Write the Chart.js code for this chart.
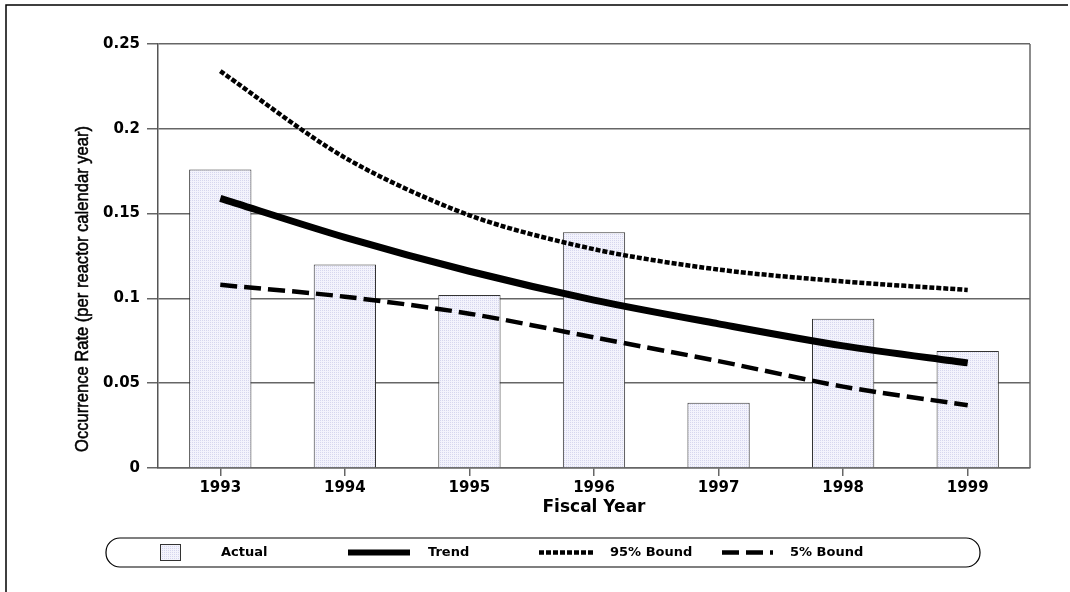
<!DOCTYPE html>
<html>
<head>
<meta charset="utf-8">
<script src="https://cdn.jsdelivr.net/npm/chart.js@4"></script>
<style>
  html, body { margin: 0; padding: 0; background: #fff; }
  #wrap { width: 1070px; height: 592px; position: relative; }
</style>
</head>
<body>
<div id="wrap"><canvas id="rateChart" width="1070" height="592"></canvas></div>
<script>
// values
const years = ['1993', '1994', '1995', '1996', '1997', '1998', '1999'];
const actual = [0.176, 0.120, 0.102, 0.139, 0.0385, 0.088, 0.069];
const trend = [0.159, 0.136, 0.116, 0.099, 0.085, 0.072, 0.062];
const bound95 = [0.234, 0.183, 0.149, 0.129, 0.117, 0.110, 0.105];
const bound5 = [0.108, 0.101, 0.091, 0.077, 0.063, 0.048, 0.037];
const yTicks = [0, 0.05, 0.1, 0.15, 0.2, 0.25];

const boldFont = '"DejaVu Sans", Arial, sans-serif';

// light dotted fill for the bars
function barPattern() {
    const c = document.createElement('canvas');
    c.width = 2; c.height = 2;
    const g = c.getContext('2d');
    g.fillStyle = '#f3f3fc';
    g.fillRect(0, 0, 2, 2);
    g.fillStyle = '#d6d6ee';
    g.fillRect(0, 0, 1, 1);
    return g.createPattern(c, 'repeat');
}

// page frame, plot box, y title and the rounded legend
const decorations = {
    id: 'decorations',
    beforeDraw(chart) {
        const ctx = chart.ctx;
        ctx.save();
        ctx.strokeStyle = '#000';
        ctx.lineWidth = 1.5;
        ctx.beginPath();
        ctx.moveTo(6, 592);
        ctx.lineTo(6, 5);
        ctx.lineTo(1068, 5);
        ctx.stroke();
        ctx.restore();
    },
    afterDatasetsDraw(chart) {
        const ctx = chart.ctx;
        const a = chart.chartArea;
        ctx.save();
        ctx.strokeStyle = '#666';
        ctx.lineWidth = 1.5;
        ctx.beginPath();
        ctx.moveTo(a.right, a.top);
        ctx.lineTo(a.right, a.bottom);
        ctx.stroke();
        ctx.restore();
    },
    afterDraw(chart) {
        const ctx = chart.ctx;
        ctx.save();

        // y axis title, condensed face
        const title = 'Occurrence Rate (per reactor calendar year)';
        ctx.font = '18px "Liberation Sans Narrow", "Arial Narrow", Arial, sans-serif';
        const w = ctx.measureText(title).width;
        ctx.translate(83, 289);
        ctx.rotate(-Math.PI / 2);
        ctx.scale(326 / w, 1);
        ctx.fillStyle = '#000';
        ctx.strokeStyle = '#000';
        ctx.lineWidth = 0.5;
        ctx.textAlign = 'center';
        ctx.textBaseline = 'middle';
        ctx.fillText(title, 0, 0);
        ctx.strokeText(title, 0, 0);
        ctx.setTransform(1, 0, 0, 1, 0, 0);

        // legend box
        const x0 = 106, y0 = 538, x1 = 980, y1 = 567, r = 14;
        ctx.strokeStyle = '#000';
        ctx.lineWidth = 1.2;
        ctx.beginPath();
        ctx.roundRect(x0, y0, x1 - x0, y1 - y0, r);
        ctx.stroke();

        const ds = chart.data.datasets;
        const cy = (y0 + y1) / 2;
        ctx.font = 'bold 13px ' + boldFont;
        ctx.textBaseline = 'middle';
        ctx.textAlign = 'left';

        // Actual
        ctx.fillStyle = ds[0].backgroundColor;
        ctx.fillRect(160, 544, 20, 16);
        ctx.strokeStyle = '#333';
        ctx.lineWidth = 1;
        ctx.strokeRect(160.5, 544.5, 20, 16);
        ctx.fillStyle = '#000';
        ctx.fillText(ds[0].label, 221, cy);

        const items = [
            { d: ds[1], x: 348, len: 62, tx: 428 },
            { d: ds[2], x: 539, len: 54, tx: 610 },
            { d: ds[3], x: 722, len: 51, tx: 790 }
        ];
        items.forEach(it => {
            ctx.strokeStyle = it.d.borderColor;
            ctx.lineWidth = Math.min(it.d.borderWidth, 6);
            ctx.setLineDash(it.d.borderDash || []);
            ctx.beginPath();
            ctx.moveTo(it.x, cy);
            ctx.lineTo(it.x + it.len, cy);
            ctx.stroke();
            ctx.setLineDash([]);
            ctx.fillText(it.d.label, it.tx, cy);
        });
        ctx.restore();
    }
};

const ctx = document.getElementById('rateChart');

new Chart(ctx, {
    data: {
        labels: years,
        datasets: [
            {
                type: 'bar',
                label: 'Actual',
                data: actual,
                backgroundColor: barPattern(),
                borderColor: '#333',
                borderWidth: 1,
                borderSkipped: 'bottom',
                categoryPercentage: 1,
                barPercentage: 0.5,
                order: 5
            },
            {
                type: 'line',
                label: 'Trend',
                data: trend,
                borderColor: '#000',
                borderWidth: 7,
                pointRadius: 0,
                tension: 0.3,
                order: 1
            },
            {
                type: 'line',
                label: '95% Bound',
                data: bound95,
                borderColor: '#000',
                borderWidth: 4.5,
                borderDash: [5, 2],
                pointRadius: 0,
                tension: 0.3,
                order: 2
            },
            {
                type: 'line',
                label: '5% Bound',
                data: bound5,
                borderColor: '#000',
                borderWidth: 4.5,
                borderDash: [17, 7],
                pointRadius: 0,
                tension: 0.3,
                order: 3
            }
        ]
    },
    options: {
        responsive: false,
        animation: false,
        layout: { padding: { top: 44, right: 40, bottom: 72, left: 0 } },
        plugins: {
            legend: { display: false },
            tooltip: { enabled: false }
        },
        scales: {
            x: {
                offset: true,
                afterFit(scale) { scale.height = 52; },
                grid: {
                    offset: false,
                    drawOnChartArea: false,
                    drawTicks: true,
                    tickLength: 8,
                    color: '#666',
                    lineWidth: 1.5
                },
                border: { color: '#666', width: 1.5 },
                ticks: {
                    color: '#000',
                    padding: 3,
                    font: { family: boldFont, size: 15, weight: 'bold' }
                },
                title: {
                    display: true,
                    text: 'Fiscal Year',
                    color: '#000',
                    padding: { top: 0, bottom: 2 },
                    font: { family: boldFont, size: 17, weight: 'bold' }
                }
            },
            y: {
                min: 0,
                max: 0.25,
                afterFit(scale) { scale.width = 158; },
                afterBuildTicks(scale) {
                    scale.ticks = yTicks.map(v => ({ value: v }));
                },
                grid: {
                    color: '#666',
                    lineWidth: 1.5,
                    tickLength: 11
                },
                border: { color: '#555', width: 1.5 },
                ticks: {
                    color: '#000',
                    padding: 7,
                    font: { family: boldFont, size: 15, weight: 'bold' },
                    callback: v => String(v)
                }
            }
        }
    },
    plugins: [decorations]
});
</script>
</body>
</html>
